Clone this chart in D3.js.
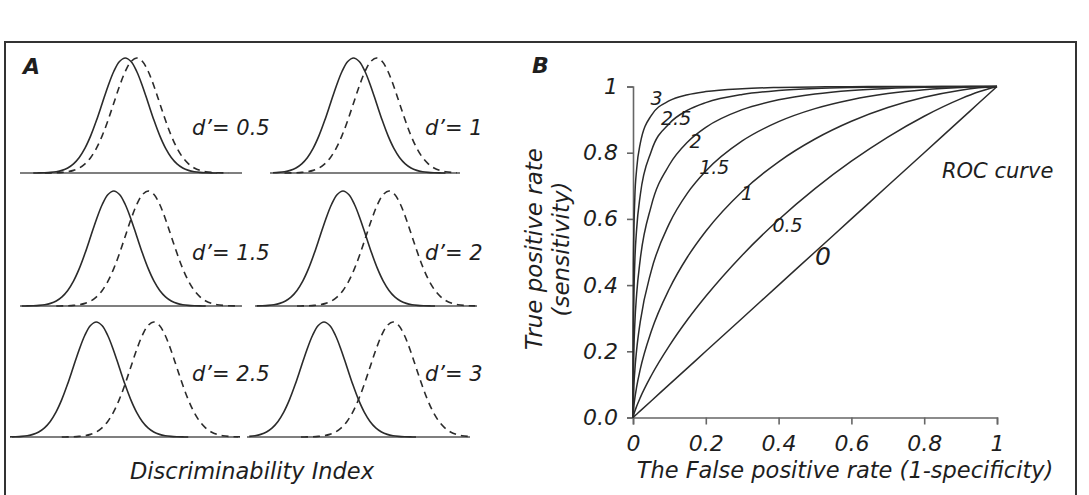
<!DOCTYPE html>
<html>
<head>
<meta charset="utf-8">
<script src="https://cdn.jsdelivr.net/npm/d3@7"></script>
<style>
    body { margin: 0; background: #fff; }
    text { font-family: 'DejaVu Sans', sans-serif; font-style: italic; fill: #1e1e1e; }
</style>
</head>
<body>
<svg id="canvas"></svg>
<script>
/** Panel A values: discriminability index and the bell shape (relative height per z) */
const dPrimes = [0.5, 1, 1.5, 2, 2.5, 3];
const dLabels = ['d’= 0.5', 'd’= 1', 'd’= 1.5', 'd’= 2', 'd’= 2.5', 'd’= 3'];

const bellZ = [-4, -3.75, -3.5, -3.25, -3, -2.75, -2.5, -2.25, -2, -1.75, -1.5, -1.25, -1, -0.75, -0.5, -0.25,
    0, 0.25, 0.5, 0.75, 1, 1.25, 1.5, 1.75, 2, 2.25, 2.5, 2.75, 3, 3.25, 3.5, 3.75, 4];
const bellY = [0.0003, 0.0009, 0.0022, 0.0051, 0.0111, 0.0228, 0.0439, 0.0796, 0.1353, 0.2163, 0.3247, 0.4578, 0.6065, 0.7548, 0.8825, 0.9692,
    1, 0.9692, 0.8825, 0.7548, 0.6065, 0.4578, 0.3247, 0.2163, 0.1353, 0.0796, 0.0439, 0.0228, 0.0111, 0.0051, 0.0022, 0.0009, 0.0003];

/** Panel B values: false positive rate and true positive rate per curve */
const rocFpr = [0, 0.001, 0.005, 0.01, 0.02, 0.05, 0.1, 0.15, 0.2, 0.3, 0.4, 0.5, 0.6, 0.7, 0.8, 0.9, 0.95, 1];
const tpr00 = [0, 0.001, 0.005, 0.01, 0.02, 0.05, 0.1, 0.15, 0.2, 0.3, 0.4, 0.5, 0.6, 0.7, 0.8, 0.9, 0.95, 1];
const tpr05 = [0, 0.0048, 0.0189, 0.0339, 0.0601, 0.1261, 0.2171, 0.2960, 0.3662, 0.4904, 0.5975, 0.6915, 0.7743, 0.8471, 0.9102, 0.9626, 0.9840, 1];
const tpr10 = [0, 0.0183, 0.0575, 0.0924, 0.1459, 0.2595, 0.3890, 0.4856, 0.5628, 0.6830, 0.7725, 0.8413, 0.8949, 0.9363, 0.9673, 0.9888, 0.9959, 1];
const tpr15 = [0, 0.0559, 0.1410, 0.2044, 0.2898, 0.4424, 0.5863, 0.6787, 0.7447, 0.8355, 0.8938, 0.9332, 0.9602, 0.9785, 0.9904, 0.9973, 0.9992, 1];
const tpr20 = [0, 0.1379, 0.2823, 0.3722, 0.4785, 0.6387, 0.7636, 0.8325, 0.8766, 0.9300, 0.9597, 0.9772, 0.9879, 0.9942, 0.9978, 0.9995, 0.9999, 1];
const tpr25 = [0, 0.2776, 0.4697, 0.5691, 0.6722, 0.8037, 0.8884, 0.9284, 0.9513, 0.9759, 0.9877, 0.9938, 0.9970, 0.9988, 0.9996, 0.9999, 1, 1];
const tpr30 = [0, 0.4641, 0.6642, 0.7498, 0.8279, 0.9123, 0.9571, 0.9752, 0.9846, 0.9934, 0.9970, 0.9987, 0.9994, 0.9998, 0.9999, 1, 1, 1];

/** Curve labels: text and where it sits (in rate units) */
const rocLabels = ['0', '0.5', '1', '1.5', '2', '2.5', '3'];
const rocLabelFpr = [0.50, 0.383, 0.297, 0.182, 0.155, 0.077, 0.048];
const rocLabelTpr = [0.461, 0.560, 0.657, 0.736, 0.814, 0.884, 0.945];

const ticks = [0, 0.2, 0.4, 0.6, 0.8, 1];
const xTickLabels = ['0', '0.2', '0.4', '0.6', '0.8', '1'];
const yTickLabels = ['0.0', '0.2', '0.4', '0.6', '0.8', '1'];

let width = 1089;
let height = 495;
let ink = '#2b2b2b';

let canvas = d3.select('#canvas')
    .attr('width', width)
    .attr('height', height);

/** Outer frame */
canvas.append('rect')
    .attr('x', 5).attr('y', 42)
    .attr('width', 1071).attr('height', 480)
    .attr('fill', 'none')
    .attr('stroke', '#333')
    .attr('stroke-width', 2);

/** Panel A: six small plots of two normal curves */
const panelsA = [
    { x0: 20, x1: 242, base: 173 },
    { x0: 270, x1: 460, base: 173 },
    { x0: 20, x1: 242, base: 306 },
    { x0: 255, x1: 477, base: 306 },
    { x0: 12, x1: 238, base: 437 },
    { x0: 247, x1: 470, base: 437 }
];
const labelX = [192, 425];
const labelY = [135, 260, 381];
const sigma = 23;
const peak = 115;

const drawPanelA = () => {
    panelsA.forEach((p, i) => {
        let d = dPrimes[i];
        let cx = (p.x0 + p.x1) / 2;
        let xs = d3.scaleLinear().domain([-1, 1]).range([cx - sigma, cx + sigma]);
        let ys = d3.scaleLinear().domain([0, 1]).range([p.base, p.base - peak]);

        canvas.append('line')
            .attr('x1', p.x0).attr('x2', p.x1)
            .attr('y1', p.base).attr('y2', p.base)
            .attr('stroke', '#555')
            .attr('stroke-width', 1.6);

        let line = d3.line()
            .x((item) => xs(item[0]))
            .y((item) => ys(item[1]))
            .curve(d3.curveCatmullRom);

        [-d / 2, d / 2].forEach((shift, k) => {
            let pts = bellZ.map((z, j) => [z + shift, bellY[j]])
                .filter((item) => xs(item[0]) >= p.x0 - 2 && xs(item[0]) <= p.x1 + 2);
            canvas.append('path')
                .attr('d', line(pts))
                .attr('fill', 'none')
                .attr('stroke', ink)
                .attr('stroke-width', 1.6)
                .attr('stroke-dasharray', k === 0 ? null : '7,5');
        });

        canvas.append('text')
            .attr('x', labelX[i % 2])
            .attr('y', labelY[Math.floor(i / 2)])
            .style('font-size', '21px')
            .text(dLabels[i]);
    });

    canvas.append('text')
        .attr('x', 23).attr('y', 74)
        .style('font-size', '22px')
        .style('font-weight', 'bold')
        .text('A');

    canvas.append('text')
        .attr('x', 252).attr('y', 479)
        .attr('text-anchor', 'middle')
        .style('font-size', '22.5px')
        .text('Discriminability Index');
};

/** Panel B: ROC curves */
const drawPanelB = () => {
    let xScale = d3.scaleLinear().domain([0, 1]).range([633, 997]);
    let yScale = d3.scaleLinear().domain([0, 1]).range([417.5, 86.5]);

    let series = [tpr00, tpr05, tpr10, tpr15, tpr20, tpr25, tpr30];

    let line = d3.line()
        .x((item) => xScale(item[0]))
        .y((item) => yScale(item[1]))
        .curve(d3.curveMonotoneX);

    let xAxis = d3.axisBottom(xScale)
        .tickValues(ticks)
        .tickSize(7)
        .tickPadding(11)
        .tickFormat((v, i) => xTickLabels[i]);

    let yAxis = d3.axisLeft(yScale)
        .tickValues(ticks)
        .tickSize(6)
        .tickPadding(9)
        .tickFormat((v, i) => yTickLabels[i]);

    let gx = canvas.append('g')
        .attr('transform', 'translate(0, 417.5)')
        .call(xAxis);
    let gy = canvas.append('g')
        .attr('transform', 'translate(633, 0)')
        .call(yAxis);

    [gx, gy].forEach((g) => {
        g.selectAll('path, line').attr('stroke', '#666').attr('stroke-width', 1.6);
        g.selectAll('text')
            .style('font-family', "'DejaVu Sans', sans-serif")
            .style('font-style', 'italic')
            .style('font-size', '22px')
            .attr('fill', '#1e1e1e');
    });

    series.forEach((tpr) => {
        canvas.append('path')
            .attr('d', line(rocFpr.map((f, j) => [f, tpr[j]])))
            .attr('fill', 'none')
            .attr('stroke', ink)
            .attr('stroke-width', 1.5);
    });

    rocLabels.forEach((t, i) => {
        canvas.append('text')
            .attr('x', xScale(rocLabelFpr[i]))
            .attr('y', yScale(rocLabelTpr[i]))
            .style('font-size', i === 0 ? '25px' : '19px')
            .text(t);
    });

    canvas.append('text')
        .attr('x', 532).attr('y', 73)
        .style('font-size', '22px')
        .style('font-weight', 'bold')
        .text('B');

    canvas.append('text')
        .attr('x', 942).attr('y', 178)
        .style('font-size', '21px')
        .text('ROC curve');

    canvas.append('text')
        .attr('transform', 'translate(542, 249) rotate(-90)')
        .attr('text-anchor', 'middle')
        .style('font-size', '23px')
        .text('True positive rate');

    canvas.append('text')
        .attr('transform', 'translate(569, 249) rotate(-90)')
        .attr('text-anchor', 'middle')
        .style('font-size', '23px')
        .text('(sensitivity)');

    canvas.append('text')
        .attr('x', 845).attr('y', 478)
        .attr('text-anchor', 'middle')
        .style('font-size', '22.5px')
        .text('The False positive rate (1-specificity)');
};

drawPanelA();
drawPanelB();
</script>
</body>
</html>
